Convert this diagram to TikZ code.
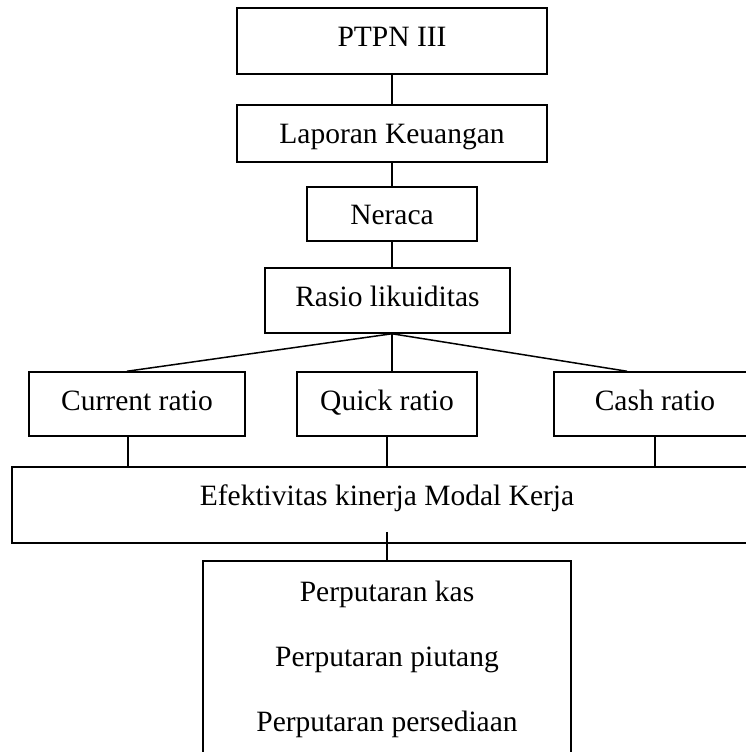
\documentclass[tikz,border=0pt]{standalone}
\usepackage{fontspec}
\setmainfont{Liberation Serif}
\usetikzlibrary{calc,positioning}

\tikzset{
  box/.style={draw,align=center,inner sep=0pt,text height=20pt,text depth=8pt},
}

\begin{document}
\begin{tikzpicture}[x=1pt,y=-1pt,line width=1.5pt,every node/.style={font=\fontsize{29.5}{65}\selectfont}]
\useasboundingbox (0,0) rectangle (745,752);
\node [box,minimum width=310,minimum height=66] (PTPN) at (392,41) {PTPN III};
\node [box,minimum width=310,minimum height=57,text depth=0pt] (Laporan) at (392,133.5) {Laporan Keuangan};
\node [box,minimum width=170,minimum height=54,text depth=0pt] (Neraca) at (392,214) {Neraca};
\node [box,minimum width=245,minimum height=65] (Rasio) at (387.5,300.5) {Rasio likuiditas};
\node [box,minimum width=216,minimum height=64] (Current) at (137,404) {Current ratio};
\node [box,minimum width=180,minimum height=64] (Quick) at (387,404) {Quick ratio};
\node [box,minimum width=202,minimum height=64] (Cash) at (655,404) {Cash ratio};
\node [box,minimum width=750,minimum height=76,inner ysep=12pt,text height=26pt,text depth=26pt] (Efek) at (387,505) {Efektivitas kinerja Modal Kerja};
\node [box,minimum width=368,minimum height=196,text height=,text depth=] (Putar) at (387,659) {Perputaran kas\\Perputaran piutang\\Perputaran persediaan};
\coordinate (EfekTail) at ([yshift=12pt]Efek.south);
% garis penghubung
\draw (PTPN.south) -- (Laporan.north);
\draw (Laporan.south) -- (Neraca.north);
\draw (Neraca.south) -- (Neraca.south |- Rasio.north);
\draw (Rasio.south -| Neraca.south) -- ([xshift=-10pt]Current.north);
\draw (Rasio.south -| Neraca.south) -- (Quick.north -| Neraca.south);
\draw (Rasio.south -| Neraca.south) -- ([xshift=-28pt]Cash.north);
\draw ([xshift=-9pt]Current.south) -- ([xshift=-9pt]Current.south |- Efek.north);
\draw (Quick.south) -- (Quick.south |- Efek.north);
\draw (Cash.south) -- (Cash.south |- Efek.north);
\draw (EfekTail) -- (Putar.north);
\end{tikzpicture}
\end{document}
